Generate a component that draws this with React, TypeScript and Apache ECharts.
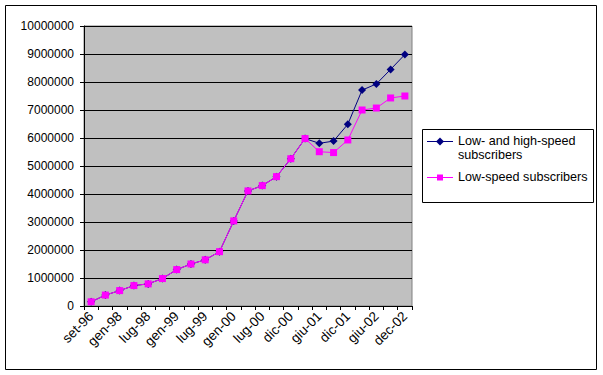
import React, { useEffect, useRef } from "react";
import * as echarts from "echarts";

const categories = [
  "set-96", "giu-97", "gen-98", "apr-98", "lug-98", "ott-98", "gen-99", "apr-99",
  "lug-99", "ott-99", "gen-00", "apr-00", "lug-00", "set-00", "dic-00", "mar-01",
  "giu-01", "set-01", "dic-01", "mar-02", "giu-02", "set-02", "dec-02",
];

const lowSpeed = [
  150000, 390000, 550000, 730000, 790000, 980000, 1300000, 1500000,
  1650000, 1940000, 3040000, 4110000, 4300000, 4620000, 5260000, 5980000,
  5510000, 5480000, 5930000, 7000000, 7070000, 7430000, 7500000,
];

const lowAndHighSpeed = [
  150000, 390000, 550000, 730000, 790000, 980000, 1300000, 1500000,
  1650000, 1940000, 3040000, 4110000, 4300000, 4620000, 5260000, 5980000,
  5810000, 5890000, 6490000, 7710000, 7930000, 8450000, 8980000,
];

const seriesNames = ["Low- and high-speed subscribers", "Low-speed subscribers"];
const legendLines = [["Low- and high-speed", "subscribers"], ["Low-speed subscribers"]];

export default function App() {
  const ref = useRef<HTMLDivElement>(null);
  useEffect(() => {
    if (!ref.current) return;
    const chart = echarts.init(ref.current, undefined, { renderer: "svg" });
    const font = "Liberation Sans, Arial, sans-serif";
    const navy = "#000080";
    const magenta = "#FF00FF";
    const textStyle = { fill: "#000", fontSize: 12.6, fontFamily: font, textVerticalAlign: "middle" };
    chart.setOption({
      animation: false,
      backgroundColor: "#ffffff",
      textStyle: { fontFamily: font },
      grid: {
        left: 84,
        top: 26,
        right: 191,
        bottom: 69,
        show: true,
        backgroundColor: "#C0C0C0",
        borderColor: "#808080",
        borderWidth: 1,
      },
      legend: { show: false },
      xAxis: {
        type: "category",
        data: categories,
        boundaryGap: true,
        axisLine: { lineStyle: { color: "#000", width: 1 } },
        axisTick: { show: true, interval: 0, length: 4, lineStyle: { color: "#000" } },
        axisLabel: {
          interval: 1,
          rotate: 45,
          fontSize: 13.5,
          color: "#000",
          fontFamily: font,
          margin: 8,
        },
        splitLine: { show: false },
      },
      yAxis: {
        type: "value",
        min: 0,
        max: 10000000,
        interval: 1000000,
        axisLine: { show: true, lineStyle: { color: "#000", width: 1 } },
        axisTick: { show: true, length: 4, lineStyle: { color: "#000" } },
        axisLabel: {
          fontSize: 12,
          color: "#000",
          fontFamily: font,
          margin: 10,
          formatter: (v: number) => String(v),
        },
        splitLine: { show: true, lineStyle: { color: "#000", width: 1 } },
      },
      series: [
        {
          name: seriesNames[0],
          type: "line",
          data: lowAndHighSpeed,
          symbol: "diamond",
          symbolSize: 8,
          itemStyle: { color: navy },
          lineStyle: { color: navy, width: 1 },
        },
        {
          name: seriesNames[1],
          type: "line",
          data: lowSpeed,
          symbol: "rect",
          symbolSize: 7,
          itemStyle: { color: magenta },
          lineStyle: { color: magenta, width: 1 },
        },
      ],
      graphic: [
        {
          type: "rect",
          shape: { x: 5.5, y: 5.5, width: 591, height: 364 },
          style: { fill: "none", stroke: "#000", lineWidth: 1 },
          silent: true,
        },
        {
          type: "rect",
          shape: { x: 422.5, y: 129.5, width: 171, height: 73 },
          style: { fill: "none", stroke: "#000", lineWidth: 1 },
          silent: true,
        },
        {
          type: "line",
          shape: { x1: 427, y1: 141.5, x2: 453, y2: 141.5 },
          style: { stroke: navy, lineWidth: 1 },
          silent: true,
        },
        {
          type: "polygon",
          shape: { points: [[440, 137.5], [444, 141.5], [440, 145.5], [436, 141.5]] },
          style: { fill: navy },
          silent: true,
        },
        {
          type: "text",
          x: 458,
          y: 141,
          style: { ...textStyle, text: legendLines[0][0] },
          silent: true,
        },
        {
          type: "text",
          x: 458,
          y: 155,
          style: { ...textStyle, text: legendLines[0][1] },
          silent: true,
        },
        {
          type: "line",
          shape: { x1: 427, y1: 177.5, x2: 453, y2: 177.5 },
          style: { stroke: magenta, lineWidth: 1 },
          silent: true,
        },
        {
          type: "rect",
          shape: { x: 437, y: 174.5, width: 6, height: 6 },
          style: { fill: magenta },
          silent: true,
        },
        {
          type: "text",
          x: 458,
          y: 177,
          style: { ...textStyle, text: legendLines[1][0] },
          silent: true,
        },
      ],
    });
    return () => chart.dispose();
  }, []);
  return (
    <div
      ref={ref}
      style={{ position: "fixed", left: 0, top: 0, width: 603, height: 375 }}
    />
  );
}
